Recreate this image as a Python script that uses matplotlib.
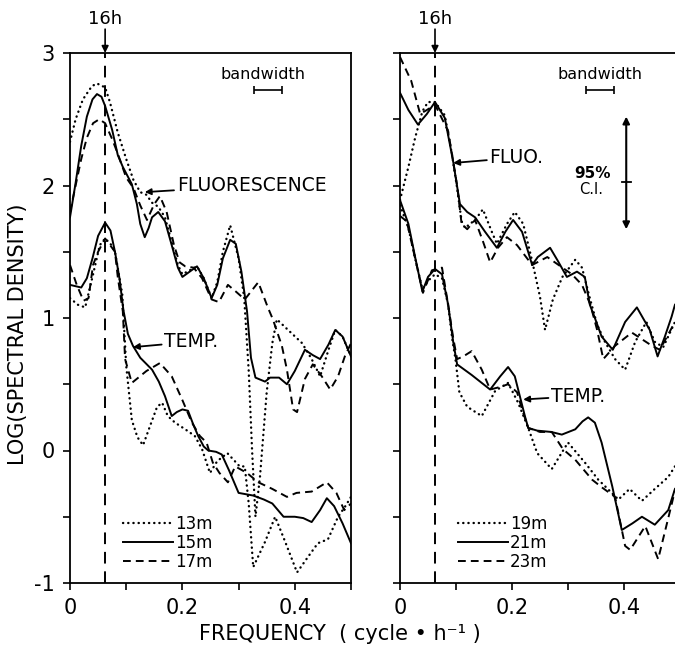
import matplotlib
matplotlib.use("Agg")
import matplotlib.pyplot as plt
from matplotlib.ticker import MultipleLocator

plt.rcParams['font.family'] = ['DejaVu Sans']
plt.rcParams['axes.unicode_minus'] = False

# --- data (frequency in cycle/h, log spectral density) ---
# left panel: fluorescence
fl13_f = [0, 0.01, 0.023, 0.039, 0.048, 0.0625, 0.071, 0.085, 0.1, 0.113, 0.125, 0.136, 0.146, 0.157,
          0.169, 0.181, 0.192, 0.2, 0.213, 0.226, 0.238, 0.252, 0.262, 0.272, 0.285, 0.3, 0.31, 0.318,
          0.324, 0.33, 0.338, 0.35, 0.36, 0.368, 0.388, 0.413, 0.43, 0.445, 0.46, 0.472, 0.485, 0.5]
fl13_v = [2.33, 2.5, 2.65, 2.75, 2.77, 2.74, 2.63, 2.4, 2.2, 2.04, 1.95, 1.93, 1.87, 1.84,
          1.76, 1.57, 1.4, 1.33, 1.36, 1.39, 1.3, 1.15, 1.27, 1.5, 1.7, 1.45, 1.15, 0.6,
          0.0, -0.5, -0.2, 0.44, 0.81, 0.99, 0.91, 0.81, 0.69, 0.56, 0.76, 0.91, 0.86, 0.71]

fl15_f = [0, 0.01, 0.02, 0.03, 0.04, 0.048, 0.056, 0.0625, 0.075, 0.085, 0.094, 0.11, 0.119, 0.125,
          0.133, 0.14, 0.146, 0.157, 0.169, 0.181, 0.192, 0.2, 0.213, 0.226, 0.238, 0.252, 0.262,
          0.272, 0.285, 0.295, 0.305, 0.315, 0.322, 0.33, 0.347, 0.356, 0.372, 0.386, 0.4, 0.418,
          0.432, 0.445, 0.46, 0.472, 0.485, 0.5]
fl15_v = [1.76, 2.02, 2.3, 2.52, 2.65, 2.69, 2.67, 2.6, 2.42, 2.23, 2.14, 2.01, 1.86, 1.71,
          1.61, 1.68, 1.76, 1.80, 1.73, 1.55, 1.38, 1.31, 1.35, 1.39, 1.3, 1.15, 1.25,
          1.45, 1.59, 1.56, 1.35, 1.05, 0.7, 0.55, 0.52, 0.55, 0.55, 0.5, 0.6, 0.76,
          0.72, 0.69, 0.8, 0.91, 0.86, 0.71]

fl17_f = [0, 0.01, 0.02, 0.03, 0.041, 0.052, 0.0625, 0.075, 0.085, 0.1, 0.113, 0.125, 0.137, 0.15,
          0.16, 0.172, 0.185, 0.195, 0.205, 0.22, 0.235, 0.252, 0.265, 0.281, 0.295, 0.311, 0.335,
          0.352, 0.361, 0.377, 0.386, 0.397, 0.404, 0.418, 0.432, 0.448, 0.463, 0.477, 0.489, 0.5]
fl17_v = [1.8, 2.0, 2.2, 2.36, 2.47, 2.5, 2.47, 2.35, 2.24, 2.06, 1.98, 1.85, 1.74, 1.86,
          1.92, 1.8, 1.55, 1.42, 1.39, 1.38, 1.3, 1.14, 1.12, 1.25, 1.2, 1.14, 1.27,
          1.08, 0.99, 0.79, 0.61, 0.31, 0.29, 0.54, 0.65, 0.56, 0.46, 0.56, 0.71, 0.81]

# left panel: temperature
tp13_f = [0, 0.014, 0.027, 0.04, 0.053, 0.0625, 0.072, 0.08, 0.093, 0.1, 0.11, 0.12, 0.13, 0.142,
          0.155, 0.164, 0.174, 0.187, 0.205, 0.222, 0.235, 0.249, 0.262, 0.28, 0.302, 0.311, 0.318,
          0.326, 0.347, 0.365, 0.383, 0.404, 0.424, 0.441, 0.459, 0.477, 0.49, 0.5]
tp13_v = [1.15, 1.1, 1.08, 1.31, 1.55, 1.6, 1.56, 1.5, 1.18, 0.64, 0.23, 0.1, 0.04, 0.18,
          0.33, 0.36, 0.26, 0.21, 0.16, 0.11, 0.01, -0.17, -0.08, -0.02, -0.12, -0.12, -0.4,
          -0.88, -0.69, -0.5, -0.69, -0.92, -0.8, -0.7, -0.67, -0.5, -0.42, -0.35]

tp15_f = [0, 0.01, 0.02, 0.03, 0.04, 0.05, 0.0625, 0.072, 0.08, 0.088, 0.095, 0.103, 0.112, 0.125,
          0.146, 0.158, 0.169, 0.181, 0.19, 0.2, 0.21, 0.219, 0.228, 0.238, 0.246, 0.26, 0.27,
          0.283, 0.3, 0.326, 0.345, 0.36, 0.38, 0.4, 0.415, 0.43, 0.445, 0.457, 0.47, 0.485, 0.5]
tp15_v = [1.25, 1.24, 1.23, 1.3, 1.45, 1.62, 1.72, 1.66, 1.5, 1.3, 1.06, 0.88, 0.79, 0.7,
          0.61, 0.52, 0.41, 0.26, 0.29, 0.31, 0.3, 0.2, 0.11, 0.03, 0.0, -0.01, -0.03,
          -0.15, -0.32, -0.34, -0.37, -0.4, -0.5, -0.5, -0.51, -0.54, -0.45, -0.36, -0.42, -0.55, -0.7]

tp17_f = [0, 0.012, 0.024, 0.033, 0.041, 0.05, 0.0625, 0.08, 0.085, 0.094, 0.098, 0.11, 0.136, 0.16,
          0.181, 0.2, 0.217, 0.231, 0.243, 0.254, 0.266, 0.281, 0.294, 0.315, 0.335, 0.36, 0.386,
          0.403, 0.43, 0.457, 0.474, 0.488, 0.5]
tp17_v = [1.4, 1.25, 1.13, 1.15, 1.4, 1.5, 1.6, 1.5, 1.31, 1.05, 0.69, 0.51, 0.6, 0.66,
          0.56, 0.38, 0.21, 0.11, 0.06, -0.09, -0.17, -0.24, -0.12, -0.17, -0.24, -0.29, -0.35,
          -0.32, -0.31, -0.24, -0.32, -0.45, -0.4]

# right panel: fluorescence
fl19_f = [0, 0.015, 0.027, 0.04, 0.05, 0.0625, 0.08, 0.093, 0.102, 0.11, 0.116, 0.134, 0.148, 0.164,
          0.173, 0.191, 0.205, 0.22, 0.236, 0.25, 0.259, 0.273, 0.29, 0.313, 0.325, 0.339, 0.352,
          0.366, 0.384, 0.402, 0.42, 0.44, 0.455, 0.47, 0.491]
fl19_v = [1.89, 2.14, 2.36, 2.56, 2.63, 2.63, 2.53, 2.23, 1.98, 1.73, 1.68, 1.74, 1.82, 1.65,
          1.56, 1.71, 1.80, 1.71, 1.43, 1.16, 0.91, 1.14, 1.31, 1.44, 1.38, 1.15, 0.95,
          0.82, 0.69, 0.61, 0.82, 0.97, 0.82, 0.78, 0.97]

fl21_f = [0, 0.015, 0.032, 0.048, 0.0625, 0.08, 0.095, 0.107, 0.12, 0.134, 0.152, 0.173, 0.188, 0.202,
          0.218, 0.236, 0.246, 0.268, 0.282, 0.298, 0.316, 0.33, 0.339, 0.348, 0.36, 0.38, 0.402,
          0.423, 0.446, 0.46, 0.473, 0.485, 0.491]
fl21_v = [2.70, 2.57, 2.46, 2.54, 2.63, 2.51, 2.18, 1.86, 1.8, 1.76, 1.65, 1.53, 1.65, 1.74,
          1.65, 1.40, 1.46, 1.53, 1.43, 1.31, 1.35, 1.31, 1.1, 1.0, 0.86, 0.76, 0.97,
          1.08, 0.91, 0.71, 0.86, 1.01, 1.1]

fl23_f = [0, 0.02, 0.036, 0.048, 0.0625, 0.086, 0.102, 0.11, 0.12, 0.134, 0.148, 0.161, 0.175, 0.191,
          0.209, 0.236, 0.263, 0.29, 0.307, 0.325, 0.34, 0.352, 0.363, 0.384, 0.414, 0.45, 0.464, 0.491]
fl23_v = [2.97, 2.79, 2.54, 2.57, 2.61, 2.41, 2.0, 1.71, 1.67, 1.74, 1.58, 1.42, 1.53, 1.61,
          1.55, 1.40, 1.46, 1.38, 1.33, 1.25, 1.1, 0.91, 0.69, 0.79, 0.89, 0.79, 0.76, 0.97]

# right panel: temperature
tp19_f = [0, 0.015, 0.027, 0.04, 0.05, 0.0625, 0.075, 0.086, 0.093, 0.099, 0.106, 0.12, 0.146, 0.17,
          0.193, 0.211, 0.229, 0.245, 0.271, 0.3, 0.33, 0.354, 0.371, 0.39, 0.41, 0.432, 0.455,
          0.479, 0.491]
tp19_v = [1.85, 1.68, 1.45, 1.22, 1.28, 1.33, 1.3, 1.1, 0.85, 0.69, 0.44, 0.33, 0.26, 0.45,
          0.51, 0.36, 0.17, -0.02, -0.14, 0.06, -0.09, -0.22, -0.29, -0.37, -0.29, -0.38, -0.29,
          -0.2, -0.12]

tp21_f = [0, 0.015, 0.027, 0.04, 0.05, 0.0625, 0.075, 0.086, 0.095, 0.102, 0.128, 0.146, 0.161, 0.179,
          0.193, 0.205, 0.214, 0.223, 0.229, 0.245, 0.27, 0.289, 0.313, 0.326, 0.336, 0.348, 0.36, 0.379,
          0.396, 0.415, 0.432, 0.455, 0.479, 0.491]
tp21_v = [1.89, 1.71, 1.46, 1.20, 1.31, 1.37, 1.33, 1.10, 0.82, 0.65, 0.57, 0.51, 0.46, 0.56,
          0.63, 0.56, 0.41, 0.26, 0.17, 0.15, 0.14, 0.12, 0.16, 0.22, 0.25, 0.21, 0.06, -0.27,
          -0.6, -0.55, -0.5, -0.56, -0.45, -0.29]

tp23_f = [0, 0.012, 0.027, 0.041, 0.057, 0.075, 0.086, 0.095, 0.102, 0.113, 0.128, 0.146, 0.161, 0.179,
          0.193, 0.209, 0.218, 0.229, 0.25, 0.271, 0.291, 0.313, 0.343, 0.361, 0.384, 0.402, 0.411,
          0.438, 0.461, 0.486, 0.491]
tp23_v = [1.77, 1.73, 1.45, 1.19, 1.36, 1.38, 1.1, 0.85, 0.69, 0.71, 0.75, 0.61, 0.46, 0.48,
          0.5, 0.44, 0.31, 0.17, 0.14, 0.14, 0.01, -0.07, -0.22, -0.28, -0.35, -0.72, -0.75,
          -0.57, -0.82, -0.39, -0.3]

freq_16h = 1 / 16.0
left_depths = ['13m', '15m', '17m']
right_depths = ['19m', '21m', '23m']

# --- styles ---
DOT = dict(color='k', lw=1.7, linestyle=(0, (0.1, 2.1)), dash_capstyle='round')
SOL = dict(color='k', lw=1.4, linestyle='-')
DSH = dict(color='k', lw=1.4, linestyle=(0, (4, 2.6)))
styles = [DOT, SOL, DSH]

fig = plt.figure(figsize=(6.75, 6.46), dpi=100)
ax1 = fig.add_axes([70 / 675, 63 / 646, 281 / 675, 530 / 646])
ax2 = fig.add_axes([400 / 675, 63 / 646, 280 / 675, 530 / 646])


def setup(ax, ylabels):
    ax.set_xlim(0, 0.5)
    ax.set_ylim(-1, 3)
    for s in ax.spines.values():
        s.set_linewidth(1.3)
    ax.xaxis.set_major_locator(MultipleLocator(0.2))
    ax.xaxis.set_minor_locator(MultipleLocator(0.1))
    ax.yaxis.set_major_locator(MultipleLocator(1))
    ax.yaxis.set_minor_locator(MultipleLocator(0.5))
    ax.tick_params(which='both', direction='out', length=5, width=1.2, labelsize=15, pad=6)
    ax.set_xticks([0, 0.2, 0.4])
    ax.set_xticklabels(['0', '0.2', '0.4'])
    ax.set_yticks([-1, 0, 1, 2, 3])
    if ylabels:
        ax.set_yticklabels(['-1', '0', '1', '2', '3'])
    else:
        ax.set_yticklabels([])
    # 16 h period marker
    ax.axvline(freq_16h, color='k', lw=1.4, linestyle=(0, (6, 4)))
    ax.annotate('', xy=(freq_16h, 3.0), xytext=(freq_16h, 3.18),
                arrowprops=dict(arrowstyle='-|>', color='k', lw=1.2, mutation_scale=10,
                                shrinkA=0, shrinkB=0),
                annotation_clip=False)
    ax.text(freq_16h, 3.26, '16h', ha='center', va='center', fontsize=13, clip_on=False)


setup(ax1, True)
setup(ax2, False)
ax2.spines['right'].set_visible(False)

# left panel curves
h1 = []
for (f, v), st, lab in zip([(fl13_f, fl13_v), (fl15_f, fl15_v), (fl17_f, fl17_v)], styles, left_depths):
    ln, = ax1.plot(f, v, label=lab, **st)
    h1.append(ln)
for (f, v), st in zip([(tp13_f, tp13_v), (tp15_f, tp15_v), (tp17_f, tp17_v)], styles):
    ax1.plot(f, v, **st)

# right panel curves
h2 = []
for (f, v), st, lab in zip([(fl19_f, fl19_v), (fl21_f, fl21_v), (fl23_f, fl23_v)], styles, right_depths):
    ln, = ax2.plot(f, v, label=lab, **st)
    h2.append(ln)
for (f, v), st in zip([(tp19_f, tp19_v), (tp21_f, tp21_v), (tp23_f, tp23_v)], styles):
    ax2.plot(f, v, **st)

# labels with arrows
arrow_kw = dict(arrowstyle='-|>', color='k', lw=1.3, mutation_scale=9, shrinkA=0, shrinkB=0)
ax1.annotate('FLUORESCENCE', xy=(0.133, 1.95), xytext=(0.19, 2.0), fontsize=13.5,
             va='center', ha='left', arrowprops=arrow_kw)
ax1.annotate('TEMP.', xy=(0.112, 0.78), xytext=(0.168, 0.82), fontsize=13.5,
             va='center', ha='left', arrowprops=arrow_kw)
ax2.annotate('FLUO.', xy=(0.095, 2.17), xytext=(0.16, 2.21), fontsize=13.5,
             va='center', ha='left', arrowprops=arrow_kw)
ax2.annotate('TEMP.', xy=(0.22, 0.385), xytext=(0.27, 0.41), fontsize=13.5,
             va='center', ha='left', arrowprops=arrow_kw)

# bandwidth markers
ax1.text(0.343, 2.84, 'bandwidth', ha='center', va='center', fontsize=11.5)
ax1.errorbar([0.352], [2.72], xerr=[0.025], fmt='none', ecolor='k', elinewidth=1.2, capsize=3, capthick=1.2)
ax2.text(0.357, 2.84, 'bandwidth', ha='center', va='center', fontsize=11.5)
ax2.errorbar([0.358], [2.72], xerr=[0.025], fmt='none', ecolor='k', elinewidth=1.2, capsize=3, capthick=1.2)

# 95% confidence interval
ax2.annotate('', xy=(0.404, 1.67), xytext=(0.404, 2.52),
             arrowprops=dict(arrowstyle='<|-|>', color='k', lw=1.5, mutation_scale=10,
                             shrinkA=0, shrinkB=0))
ax2.plot([0.396, 0.412], [2.03, 2.03], color='k', lw=1.3)
ax2.text(0.344, 2.09, '95%', ha='center', va='center', fontsize=11, fontweight='bold')
ax2.text(0.341, 1.97, 'C.I.', ha='center', va='center', fontsize=10.5)

# legends
leg_kw = dict(loc='upper left', frameon=False, fontsize=12, handlelength=3.0,
              handletextpad=0.1, labelspacing=0.05, borderpad=0, borderaxespad=0)
ax1.legend(handles=h1, bbox_to_anchor=(0.19, 0.128), **leg_kw)
ax2.legend(handles=h2, bbox_to_anchor=(0.207, 0.128), **leg_kw)

ax1.set_ylabel('LOG(SPECTRAL DENSITY)', fontsize=15)
ax1.yaxis.set_label_coords(-0.15, 0.47)
fig.text(340 / 675, 12 / 646, 'FREQUENCY  ( cycle \u2022 h\u207b\u00b9 )', ha='center', va='center', fontsize=15)

fig.savefig('out.png', dpi=100)
